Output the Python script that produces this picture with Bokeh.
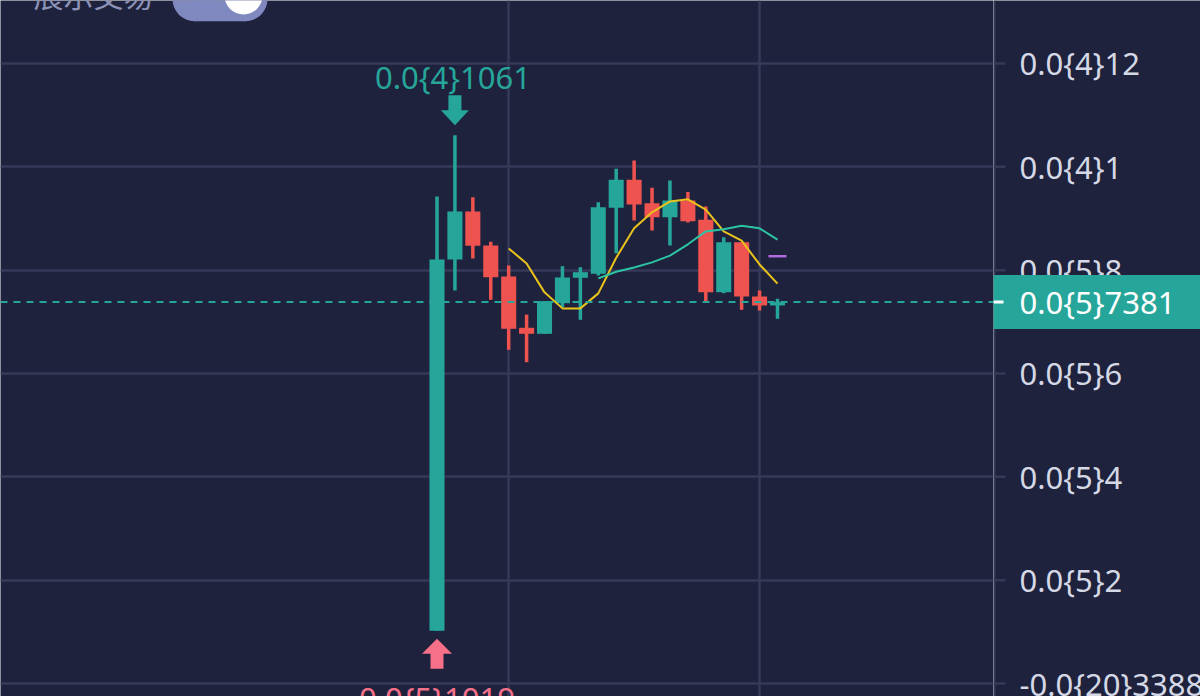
from bokeh.plotting import figure
from bokeh.layouts import row
from bokeh.models import (ColumnDataSource, FixedTicker, Grid, Span, Label,
                          Range1d)
from bokeh.embed import file_html
from bokeh.resources import INLINE
from bokeh.core.properties import value

# ---------------- data (prices in units of 1e-5) ----------------
bar_index = list(range(20))
opens = [1.019, 8.206, 9.135, 8.477, 7.877, 6.884, 6.768, 7.360, 7.852, 7.930,
         9.207, 9.748, 9.296, 9.025, 9.348, 8.975, 7.573, 8.541, 7.490, 7.316]
highs = [9.425, 10.61, 9.410, 8.549, 8.090, 7.140, 7.399, 8.077, 8.057, 9.315,
         9.961, 10.12, 9.594, 9.735, 9.510, 9.232, 8.638, 8.541, 7.606, 7.445]
lows = [1.019, 7.606, 8.225, 7.426, 6.458, 6.218, 6.768, 7.283, 7.039, 7.896,
        8.328, 8.960, 8.767, 8.477, 8.920, 7.380, 7.554, 7.232, 7.219, 7.058]
closes = [8.206, 9.135, 8.471, 7.863, 6.865, 6.768, 7.399, 7.858, 7.960, 9.218,
          9.748, 9.270, 9.025, 9.348, 8.948, 7.573, 8.541, 7.490, 7.316, 7.381]

ma5_index = list(range(4, 20))
ma5 = [8.42, 8.13, 7.57, 7.26, 7.26, 7.55, 8.24, 8.81, 9.12, 9.33, 9.37, 9.17,
       8.75, 8.57, 8.11, 7.74]
ma10_index = list(range(9, 20))
ma10 = [7.84, 7.97, 8.05, 8.15, 8.28, 8.50, 8.75, 8.79, 8.86, 8.81, 8.59]
ma20_index = [19]
ma20 = [8.27]

y_ticks = [0, 2, 4, 6, 8, 10, 12]
y_tick_labels = ["-0.0{20}3388", "0.0{5}2", "0.0{5}4", "0.0{5}6", "0.0{5}8",
                 "0.0{4}1", "0.0{4}12"]
x_grid_bars = [4, 18]
last_price = 7.381
last_price_label = "0.0{5}7381"
high_label = "0.0{4}1061"
low_label = "0.0{5}1019"
toggle_label = "展示交易"

# ---------------- layout / style ----------------
W, H = 1200, 696
AXIS_W = 207
FRAME_W = W - AXIS_W
BAR_PX = 17.92
FIRST_BAR_PX = 436.5
PX_PER_UNIT = 51.67
ZERO_PX = 683.0

BG = "#1e223c"
GRID = "#363a58"
AXIS_TXT = "#d5d8e5"
GREEN = "#26a69a"
RED = "#ef5350"
PINK = "#f7708a"
YELLOW = "#e9c31c"
TEAL_MA = "#2cc4a4"
PURPLE = "#b56be0"
TOGGLE = "#8088c0"
FONT = "Noto Sans"
FS = "31px"

x_min = -FIRST_BAR_PX / BAR_PX
x_max = (FRAME_W - FIRST_BAR_PX) / BAR_PX
y_max = ZERO_PX / PX_PER_UNIT
y_min = (ZERO_PX - H) / PX_PER_UNIT


def dx(px):
    return (px - FIRST_BAR_PX) / BAR_PX


def dy(py):
    return (ZERO_PX - py) / PX_PER_UNIT


def py_of(v):
    return ZERO_PX - v * PX_PER_UNIT


y_range = Range1d(y_min, y_max)

p = figure(width=FRAME_W, height=H, x_range=Range1d(x_min, x_max),
           y_range=y_range, x_axis_location=None, y_axis_location=None,
           toolbar_location=None, output_backend="svg", min_border=0,
           background_fill_color=BG, border_fill_color=BG,
           outline_line_color=None)
for g in list(p.xgrid) + list(p.ygrid):
    g.visible = False

p.add_layout(Grid(dimension=0, ticker=FixedTicker(ticks=x_grid_bars),
                  grid_line_color=GRID, grid_line_width=2.5))
p.add_layout(Grid(dimension=1, ticker=FixedTicker(ticks=y_ticks),
                  grid_line_color=GRID, grid_line_width=2.5))

# ---------------- candles ----------------
colors = [GREEN if c >= o else RED for o, c in zip(opens, closes)]
src = ColumnDataSource(dict(
    x=bar_index, high=highs, low=lows,
    top=[max(o, c) for o, c in zip(opens, closes)],
    bottom=[min(o, c) for o, c in zip(opens, closes)],
    color=colors))
p.segment(x0="x", y0="low", x1="x", y1="high", line_color="color",
          line_width=3.5, source=src)
p.vbar(x="x", width=0.84, top="top", bottom="bottom", fill_color="color",
       line_color=None, source=src)

# ---------------- moving averages ----------------
p.line(ma5_index, ma5, line_color=YELLOW, line_width=2, line_join="round")
p.line(ma10_index, ma10, line_color=TEAL_MA, line_width=2, line_join="round")
p.scatter(ma20_index, ma20, marker="dash", size=18, line_color=PURPLE,
          line_width=2.5)

# ---------------- last price line ----------------
p.add_layout(Span(location=last_price, dimension="width", line_color=GREEN,
                  line_width=2, line_dash="7 6"))

# ---------------- high / low markers ----------------
hi_i = highs.index(max(highs))
lo_i = lows.index(min(lows))


def arrow(bar, price, down, gap, head_len, shaft_len, hw, sw):
    p0 = py_of(price)
    s = -1 if down else 1
    tip = p0 + s * gap
    base = tip + s * head_len
    end = base + s * shaft_len
    pts = [(0, tip), (hw, base), (sw, base), (sw, end), (-sw, end),
           (-sw, base), (-hw, base)]
    xs = [bar + a / BAR_PX for a, b in pts]
    ys = [dy(b) for a, b in pts]
    return xs, ys


axs, ays = arrow(hi_i, highs[hi_i], True, 10, 15, 15, 14, 6.5)
p.patch(axs, ays, fill_color=GREEN, line_color=None)
axs, ays = arrow(lo_i, lows[lo_i], False, 8, 15, 15, 15, 6.5)
p.patch(axs, ays, fill_color=PINK, line_color=None)

p.text(x=[hi_i - 2 / BAR_PX], y=[dy(py_of(highs[hi_i]) - 58.5)],
       text=[high_label], text_color=GREEN, text_font=value(FONT),
       text_font_size=FS, text_align="center", text_baseline="middle")
p.text(x=[lo_i], y=[dy(py_of(lows[lo_i]) + 67)], text=[low_label],
       text_color=PINK, text_font=value(FONT), text_font_size=FS,
       text_align="center", text_baseline="middle")

# ---------------- top-left toggle ----------------
p.add_layout(Label(x=dx(33), y=dy(-7), text=toggle_label,
                   text_color="#8d92b8", text_font="Noto Sans CJK SC",
                   text_font_size="30px", text_align="left",
                   text_baseline="alphabetic"))
p.rect(x=[dx(219.5)], y=[dy(-1.3)], width=51, height=44, width_units="screen",
       height_units="screen", fill_color=TOGGLE, line_color=None)
p.scatter([dx(194), dx(245)], [dy(-1.3), dy(-1.3)], size=44, marker="circle",
          fill_color=TOGGLE, line_color=None)
p.scatter([dx(243)], [dy(-5)], size=38, marker="circle", fill_color="#ffffff",
          line_color=None)

# ---------------- price scale panel (right) ----------------
a = figure(width=AXIS_W, height=H, x_range=Range1d(0, AXIS_W),
           y_range=y_range, x_axis_location=None, y_axis_location=None,
           toolbar_location=None, output_backend="svg", min_border=0,
           background_fill_color=BG, border_fill_color=BG,
           outline_line_color=None)
for g in list(a.xgrid) + list(a.ygrid):
    g.visible = False

a.segment(x0=[1], y0=[y_min], x1=[1], y1=[y_max], line_color=GRID,
          line_width=2)
a.segment(x0=[0] * len(y_ticks), y0=y_ticks, x1=[12] * len(y_ticks),
          y1=y_ticks, line_color=GRID, line_width=2.5)
a.text(x=[26] * len(y_ticks), y=y_ticks, text=y_tick_labels,
       text_color=AXIS_TXT, text_font=value(FONT), text_font_size=FS,
       text_align="left", text_baseline="middle")
a.quad(left=[-1], right=[AXIS_W], bottom=[dy(py_of(last_price) + 27)],
       top=[dy(py_of(last_price) - 27)], fill_color=GREEN, line_color=None)
a.segment(x0=[0], y0=[last_price], x1=[10], y1=[last_price],
          line_color="#ffffff", line_width=3)
a.text(x=[26], y=[last_price], text=[last_price_label], text_color="#ffffff",
       text_font=value(FONT), text_font_size=FS, text_align="left",
       text_baseline="middle")

layout = row(p, a, spacing=0)
open("out.html", "w").write(file_html(layout, INLINE))
